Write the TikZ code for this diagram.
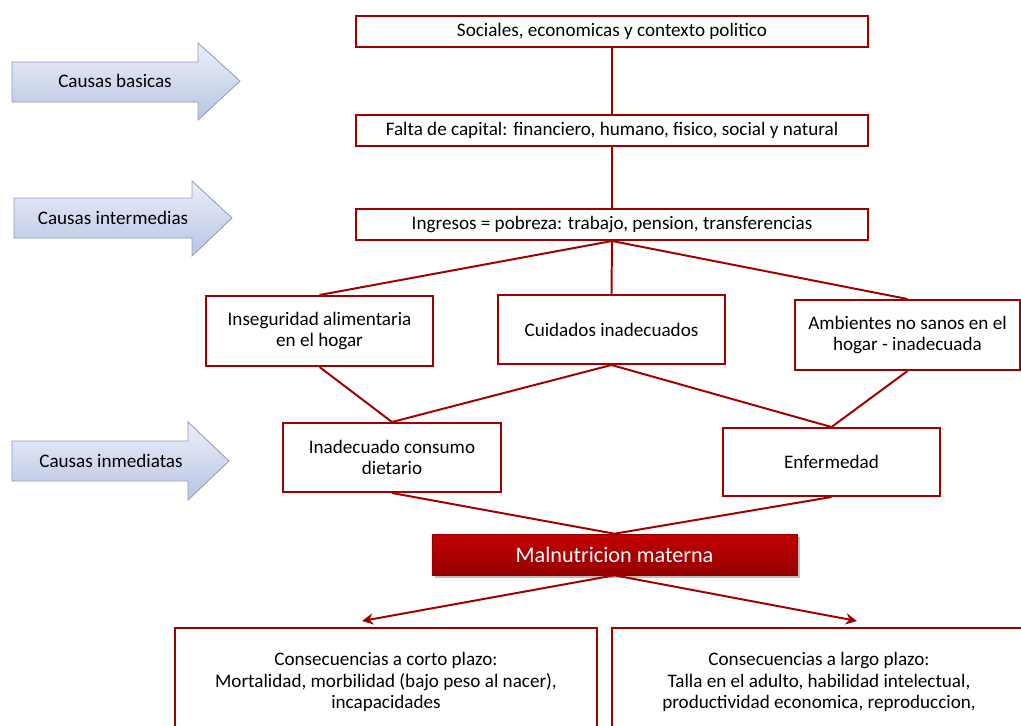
\documentclass[tikz,border=0pt]{standalone}
\usepackage{fontspec}
\setmainfont{Carlito}
\usetikzlibrary{arrows.meta,shadows}
\definecolor{vino}{HTML}{A00000}
\definecolor{vinoclaro}{HTML}{C40000}
\definecolor{vinooscuro}{HTML}{940000}
\definecolor{azulclaro}{HTML}{ECEFF9}
\definecolor{azuloscuro}{HTML}{B8C4E2}
\definecolor{bordeazul}{HTML}{8E9DBF}
\tikzset{
  caja/.style={draw=vino, line width=1.4pt, fill=white, align=center, inner sep=2pt,
    font=\fontsize{13.6}{15.3}\selectfont},
  enlace/.style={draw=vino, line width=1.4pt},
  causa/.style={top color=azulclaro, bottom color=azuloscuro, draw=bordeazul, line width=0.6pt},
  rotulo/.style={font=\fontsize{13.6}{15.3}\selectfont},
}

\begin{document}
\begin{tikzpicture}[x=0.025cm, y=-0.025cm]
  \useasboundingbox (0,0) rectangle (1021,725);

  %% left arrows (levels)
  \shadedraw[causa] (12,62) -- (198,62) -- (198,43) -- (240,81) -- (198,120) -- (198,102) -- (12,102) -- cycle;
  \shadedraw[causa] (14,198) -- (192,198) -- (192,181) -- (232,218) -- (192,256) -- (192,238) -- (14,238) -- cycle;
  \shadedraw[causa] (12,441) -- (188,441) -- (188,422) -- (229,461) -- (188,500) -- (188,481) -- (12,481) -- cycle;
  \node[rotulo] (basicas) at (115,81) {Causas basicas};
  \node[rotulo] (intermedias) at (113,218) {Causas intermedias};
  \node[rotulo] (inmediatas) at (111,461) {Causas inmediatas};

  %% basic causes
  \node[caja, minimum width=12.8cm, minimum height=0.775cm] (sociales) at (612,31.5) {Sociales, economicas y contexto politico};
  \node[caja, minimum width=12.8cm, minimum height=0.775cm] (capital) at (612,130.5) {Falta de capital: financiero, humano, fisico, social y natural};
  \node[caja, minimum width=12.8cm, minimum height=0.775cm] (ingresos) at (612,224.5) {Ingresos = pobreza: trabajo, pension, transferencias};

  %% intermediate causes
  \node[caja, minimum width=5.675cm, minimum height=1.75cm] (inseguridad) at (319.5,331) {Inseguridad alimentaria\\en el hogar};
  \node[caja, minimum width=5.675cm, minimum height=1.725cm] (cuidados) at (611.5,329.5) {Cuidados inadecuados};
  \node[caja, minimum width=5.625cm, minimum height=1.75cm] (ambientes) at (907.5,335) {Ambientes no sanos en el\\hogar - inadecuada};

  %% immediate causes
  \node[caja, minimum width=5.45cm, minimum height=1.725cm] (consumo) at (392,457.5) {Inadecuado consumo\\dietario};
  \node[caja, minimum width=5.425cm, minimum height=1.7cm] (enfermedad) at (831.5,462) {Enfermedad};

  %% outcome
  \node[draw=vinooscuro, line width=0.4pt, top color=vinoclaro, bottom color=vinooscuro, drop shadow,
    minimum width=9.125cm, minimum height=1.025cm, text=white, font=\fontsize{15.8}{18}\selectfont]
    (malnutricion) at (614.5,554.5) {Malnutricion materna};

  %% consequences
  \node[caja, minimum width=10.55cm, minimum height=2.7cm] (corto) at (386,682)
    {Consecuencias a corto plazo:\\Mortalidad, morbilidad (bajo peso al nacer),\\incapacidades};
  \node[caja, minimum width=10.35cm, minimum height=2.7cm] (largo) at (819,682)
    {Consecuencias a largo plazo:\\Talla en el adulto, habilidad intelectual,\\productividad economica, reproduccion,};
  \coordinate (puntacorto) at (362,621);
  \coordinate (puntalargo) at (857,621);

  %% connectors
  \draw[enlace] (sociales) -- (capital);
  \draw[enlace] (capital) -- (ingresos);
  \draw[enlace] (ingresos.south) -- (inseguridad.north);
  \draw[enlace] (ingresos.south) -- (cuidados.north);
  \draw[enlace] (ingresos.south) -- (ambientes.north);
  \draw[enlace] (inseguridad.south) -- (consumo.north);
  \draw[enlace] (cuidados.south) -- (consumo.north);
  \draw[enlace] (cuidados.south) -- (enfermedad.north);
  \draw[enlace] (ambientes.south) -- (enfermedad.north);
  \draw[enlace] (consumo.south) -- (malnutricion.north);
  \draw[enlace] (enfermedad.south) -- (malnutricion.north);
  \draw[enlace, -{Stealth[length=8pt, width=8pt]}] (malnutricion.south) -- (puntacorto);
  \draw[enlace, -{Stealth[length=8pt, width=8pt]}] (malnutricion.south) -- (puntalargo);
\end{tikzpicture}
\end{document}
